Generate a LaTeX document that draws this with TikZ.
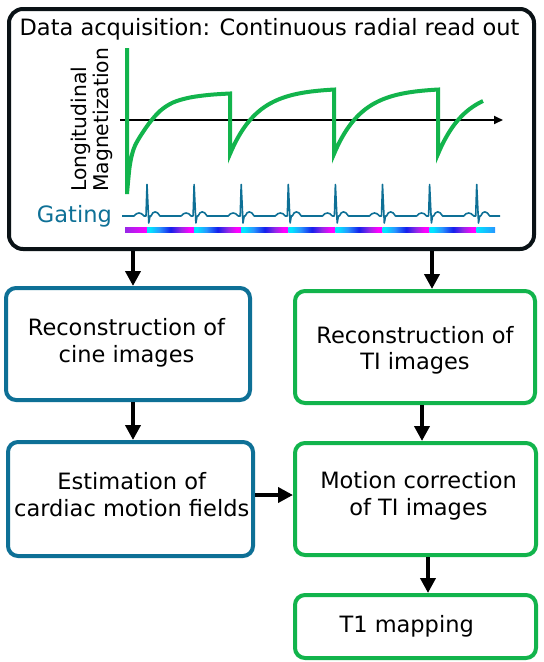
\documentclass[tikz,border=0pt]{standalone}
\usepackage{fontspec}
\setmainfont{DejaVu Sans}
\usetikzlibrary{arrows.meta}
\definecolor{bluebox}{RGB}{14,112,150}
\definecolor{greenbox}{RGB}{18,180,76}
\definecolor{topframe}{RGB}{10,18,22}
\definecolor{ecgcol}{RGB}{14,112,150}
\definecolor{barcA}{RGB}{0,230,255}
\definecolor{barcB}{RGB}{40,150,255}
\definecolor{barcC}{RGB}{20,30,235}
\definecolor{barcD}{RGB}{150,40,230}
\definecolor{barcE}{RGB}{255,0,255}
\pgfdeclarehorizontalshading{ecgbar}{100bp}{color(0bp)=(barcA); color(28bp)=(barcA); color(38bp)=(barcB); color(50bp)=(barcC); color(61bp)=(barcD); color(70bp)=(barcE); color(75bp)=(barcE); color(100bp)=(barcE)}
\tikzset{
  flowbox/.style={draw, line width=4pt, rounded corners=10pt, inner sep=0pt},
  bluebx/.style={flowbox, draw=bluebox},
  greenbx/.style={flowbox, draw=greenbox},
  boxtext/.style={inner sep=0pt, align=center, font=\fontsize{22.5}{26.8}\selectfont},
  flowarrow/.style={line width=4.5pt, -{Triangle[length=15pt,width=15pt]}},
  curveline/.style={draw=greenbox, line width=4pt},
}
\begin{document}
\begin{tikzpicture}[x=1pt,y=-1pt]
\fill[white] (0,0) rectangle (544,662);
\useasboundingbox (0,0) rectangle (544,662);

% top frame
\node[flowbox, draw=topframe, rounded corners=14pt, minimum width=525pt, minimum height=240pt] (top) at (271.5,129) {};
\node[boxtext, anchor=base] (title) at (269.5,35) {Data acquisition: Continuous radial read out};

% axis
\coordinate (axs) at (120,120);
\coordinate (axe) at (503,120);
\draw[line width=2pt, -{Triangle[length=9pt,width=8pt]}] (axs) -- (axe);

% magnetization curve
\draw[curveline] (127,48) -- (127,194)
  -- plot[smooth, tension=0.55] coordinates {(127,194) (129.6,167) (133,151) (138,140) (148.6,124) (160,111) (173,102.5) (190,97.5) (210,94.8) (230,93.5)}
  -- (230,154)
  -- plot[domain=0:104, samples=50] ({230+\x},{88+66*exp(-\x/27.7)})
  -- (334,154)
  -- plot[domain=0:104, samples=50] ({334+\x},{88+66*exp(-\x/27.7)})
  -- (438,154)
  -- plot[domain=0:45, samples=30] ({438+\x},{88+66*exp(-\x/27.7)});

\node[inner sep=0pt, rotate=90, anchor=west, align=left, font=\fontsize{20.3}{22.5}\selectfont] (ylab) at (92,192) {Longitudinal\\Magnetization};

% gating
\node[inner sep=0pt, anchor=base east, text=ecgcol, font=\fontsize{22.5}{26.8}\selectfont] (gating) at (112,222) {Gating};
\draw[ecgcol, line width=1.6pt, line join=round] (122,216)
  foreach \s in {147,194.1,241.2,288.3,335.4,382.5,429.6,476.7} {
    -- ({\s-13},216) .. controls ({\s-10},212) and ({\s-6},212) .. ({\s-3},216)
    -- ({\s-1},216) -- (\s,184.5) -- ({\s+1.8},223) -- ({\s+3},216)
    -- ({\s+4},216) .. controls ({\s+6},210.5) and ({\s+10},210.5) .. ({\s+13},216)
  } -- (500,216);

% colour bar
\shade[left color=barcD, right color=barcE] (125,227) rectangle (147,232);
\foreach \a/\b in {147/194.1, 194.1/241.2, 241.2/288.3, 288.3/335.4, 335.4/382.5, 382.5/429.6, 429.6/476.7} {
  \shade[shading=ecgbar] (\a,227) rectangle (\b,232);
}
\shade[left color=barcA, right color=barcB] (476.7,227) rectangle (495,232);

% flow boxes
\node[bluebx, minimum width=244pt, minimum height=112pt] (L1) at (128,344) {};
\node[greenbx, minimum width=240pt, minimum height=112pt] (R1) at (415,347) {};
\node[bluebx, minimum width=245pt, minimum height=114pt] (L2) at (130.5,499) {};
\node[greenbx, minimum width=241pt, minimum height=112pt] (R2) at (415.5,499) {};
\node[greenbx, minimum width=241pt, minimum height=63pt] (T1) at (415.5,626.5) {};

\node[boxtext] (L1t) at (126.5,342.5) {Reconstruction of\\cine images};
\node[boxtext] (R1t) at (415,350.3) {Reconstruction of\\TI images};
\node[boxtext] (L2t) at (131.7,495) {Estimation of\\cardiac motion fields};
\node[boxtext] (R2t) at (418.5,495.6) {Motion correction\\of TI images};
\node[boxtext, anchor=base] (T1t) at (406.7,632.7) {T1 mapping};

% arrows
\draw[flowarrow] ([xshift=5pt]L1.north |- top.south) -- ([xshift=5pt]L1.north);
\draw[flowarrow] ([xshift=17pt]R1.north |- top.south) -- ([xshift=17pt]R1.north);
\draw[flowarrow] ([xshift=5pt]L1.south) -- ([xshift=5pt]L1.south |- L2.north);
\draw[flowarrow] ([xshift=7pt]R1.south) -- ([xshift=7pt]R1.south |- R2.north);
\draw[flowarrow] ([yshift=4pt]L2.east) -- ([yshift=4pt]L2.east -| R2.west);
\draw[flowarrow] ([xshift=12.5pt]R2.south) -- ([xshift=12.5pt]R2.south |- T1.north);
\end{tikzpicture}
\end{document}
